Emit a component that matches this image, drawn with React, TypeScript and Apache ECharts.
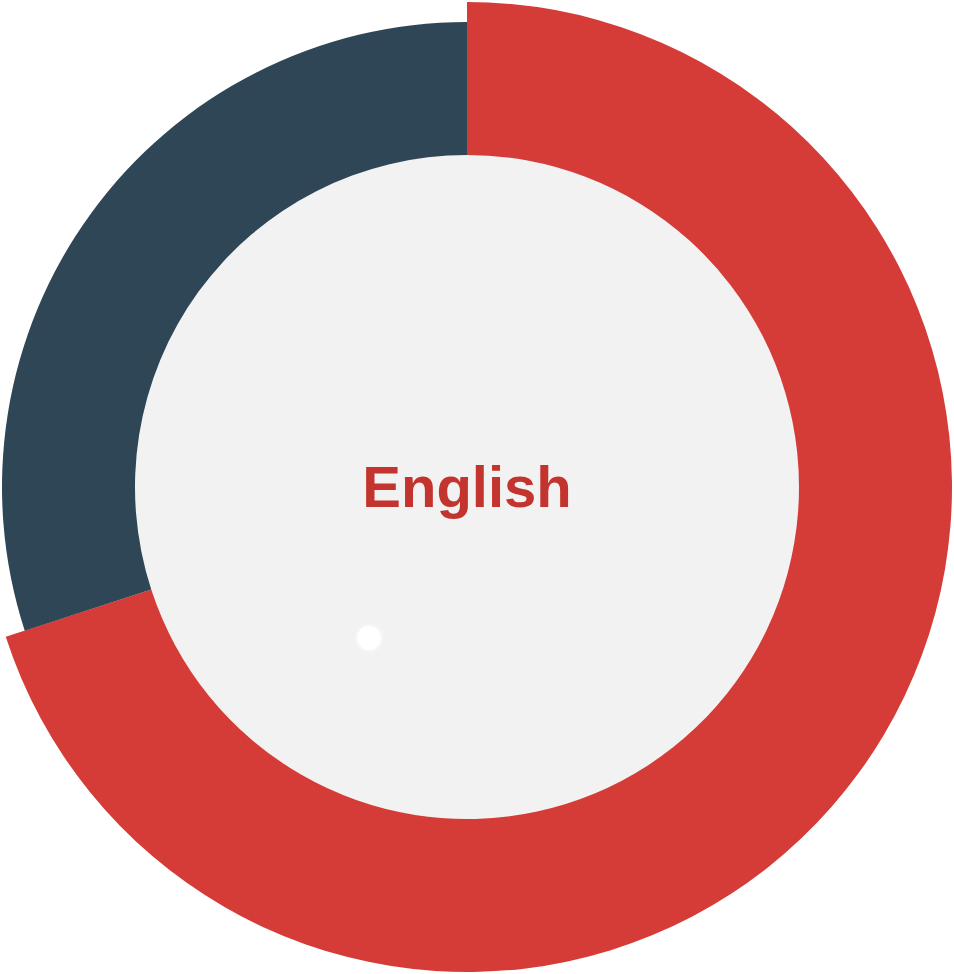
import React, { useEffect, useRef } from "react";
import * as echarts from "echarts";

const categories = ["English", "Other"];
const values = [70, 30];
const colors = ["#d63c37", "#2f4656"];

export default function App() {
  const ref = useRef<HTMLDivElement>(null);
  useEffect(() => {
    document.body.style.margin = "0";
    const chart = echarts.init(ref.current!, null, { renderer: "svg" });
    const center = [467, 487];
    chart.setOption({
      animation: false,
      series: [
        {
          type: "pie",
          silent: true,
          center,
          z: 1,
          radius: [0, 333],
          label: { show: false },
          data: [{ value: 1, itemStyle: { color: "#f2f2f2" } }],
        },
        {
          type: "pie",
          silent: true,
          center,
          z: 2,
          startAngle: 90,
          clockwise: true,
          radius: [332, 485],
          label: { show: false },
          labelLine: { show: false },
          data: categories.map((c, i) => ({
            name: c,
            value: values[i],
            itemStyle: { color: i === 0 ? colors[0] : "transparent" },
          })),
        },
        {
          type: "pie",
          silent: true,
          center,
          z: 2,
          startAngle: 90,
          clockwise: true,
          radius: [332, 465],
          label: { show: false },
          labelLine: { show: false },
          data: categories.map((c, i) => ({
            name: c,
            value: values[i],
            itemStyle: { color: i === 1 ? colors[1] : "transparent" },
          })),
        },
      ],
      graphic: {
        elements: [
          {
            type: "text",
            z: 100,
            x: 467,
            y: 486,
            style: {
              text: categories[0],
              fill: "#c3342f",
              font: "bold 58px 'Liberation Sans', Arial, sans-serif",
              align: "center",
              verticalAlign: "middle",
            },
          },
          {
            type: "circle",
            z: 100,
            shape: { cx: 369, cy: 638, r: 12 },
            style: { fill: "#ffffff", shadowBlur: 4, shadowColor: "#ffffff" },
          },
        ],
      },
    });
    return () => chart.dispose();
  }, []);
  return <div ref={ref} style={{ width: 954, height: 974 }} />;
}
